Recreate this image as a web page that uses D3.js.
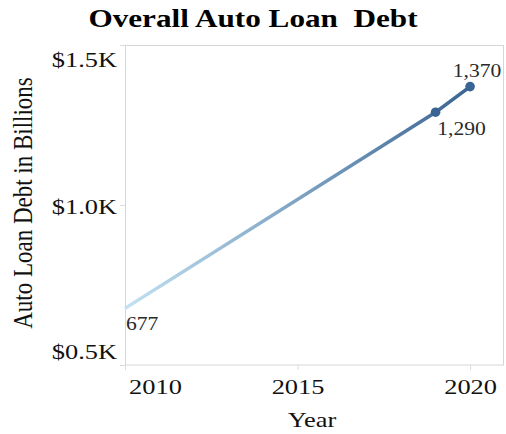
<!DOCTYPE html>
<html><head><meta charset="utf-8">
<script src="https://cdn.jsdelivr.net/npm/d3@7"></script>
<style>body{margin:0;background:#fff} svg{display:block}</style>
</head><body><svg id="c" width="506" height="434"></svg>
<script>
// ---- data ----
const years = [2010, 2019, 2020];
const debt = [677, 1290, 1370];
const dotted = [false, true, true];
const yTicks = [500, 1000, 1500];
const yTickLabels = ["$0.5K", "$1.0K", "$1.5K"];
const xTicks = [2010, 2015, 2020];
const title = "Overall Auto Loan  Debt";
const xTitle = "Year";
const yTitle = "Auto Loan Debt in Billions";

// ---- layout ----
const L = 125, R = 504, T = 45, B = 365, SX = 1.2;
const FONT = "'Liberation Serif','Times New Roman',serif";
const svg = d3.select("#c");
const x = d3.scaleLinear().domain([2010, 2021]).range([L, 504.6]);
const y = d3.scaleLinear().domain([500, 1500]).range([B, T]);
const pts = years.map((yr, i) => ({year: yr, value: debt[i], dot: dotted[i]}));

// plot border
svg.append("rect").attr("x", L + 0.5).attr("y", T + 0.5)
  .attr("width", R - L - 1).attr("height", B - T - 0.5)
  .attr("fill", "none").attr("stroke", "#d6d6d6").attr("stroke-width", 1);

// y axis
const gy = svg.append("g").attr("transform", `translate(${L},0)`)
  .call(d3.axisLeft(y).tickValues(yTicks).tickFormat((d, i) => yTickLabels[i]).tickSize(5));
gy.select(".domain").remove();
gy.selectAll(".tick line").attr("stroke", "#dcdcdc");
gy.selectAll(".tick text").each(function(d) {
  const ty = y(d);
  const cy = Math.max(T + 13, Math.min(B - 15, ty));
  d3.select(this).attr("x", 0).attr("y", 0).attr("dy", null)
    .attr("text-anchor", "end").attr("fill", "#111")
    .style("font-family", FONT).style("font-size", "22px")
    .attr("transform", `translate(-8,${cy - ty + 8}) scale(${SX},1)`);
});

// x axis
const gx = svg.append("g").attr("transform", `translate(0,${B})`)
  .call(d3.axisBottom(x).tickValues(xTicks).tickFormat(d3.format("d")).tickSize(5));
gx.select(".domain").remove();
gx.selectAll(".tick line").attr("stroke", "#dcdcdc");
gx.selectAll(".tick text").each(function(d) {
  const tx = x(d);
  const cx = Math.max(L + 30, Math.min(R - 30, tx));
  d3.select(this).attr("x", 0).attr("y", 0).attr("dy", null)
    .attr("text-anchor", "middle").attr("fill", "#111")
    .style("font-family", FONT).style("font-size", "22px")
    .attr("transform", `translate(${cx - tx},29) scale(${SX},1)`);
});

// gradient for line
const defs = svg.append("defs");
const grad = defs.append("linearGradient").attr("id", "lg")
  .attr("gradientUnits", "userSpaceOnUse")
  .attr("x1", x(years[0])).attr("y1", 0).attr("x2", x(years[years.length - 1])).attr("y2", 0);
grad.append("stop").attr("offset", "0%").attr("stop-color", "#c2e1f2");
grad.append("stop").attr("offset", "100%").attr("stop-color", "#3a6493");

svg.append("path").datum(pts)
  .attr("d", d3.line().x(d => x(d.year)).y(d => y(d.value)))
  .attr("fill", "none").attr("stroke", "url(#lg)").attr("stroke-width", 3.5)
  .attr("stroke-linecap", "butt");

svg.selectAll("circle.pt").data(pts.filter(d => d.dot)).join("circle")
  .attr("class", "pt").attr("cx", d => x(d.year)).attr("cy", d => y(d.value))
  .attr("r", 4.8).attr("fill", "#3a6493");

// data labels
const fmt = d3.format(",");
const offs = [[1, 22, "start"], [26, 23, "middle"], [7, -10, "middle"]];
svg.selectAll("text.lbl").data(pts).join("text")
  .attr("class", "lbl")
  .attr("transform", (d, i) => `translate(${x(d.year) + offs[i][0]},${y(d.value) + offs[i][1]}) scale(${SX},1)`)
  .attr("text-anchor", (d, i) => offs[i][2])
  .attr("fill", "#2a2a2a")
  .style("font-family", FONT).style("font-size", "18px")
  .text(d => fmt(d.value));

// title
svg.append("text").attr("transform", `translate(253,27) scale(${SX},1)`)
  .attr("text-anchor", "middle").attr("fill", "#000")
  .style("font-family", FONT).style("font-size", "26px").style("font-weight", "bold")
  .style("white-space", "pre").attr("xml:space", "preserve")
  .text(title);

// axis titles
svg.append("text").attr("transform", `translate(312,427) scale(${SX},1)`)
  .attr("text-anchor", "middle").attr("fill", "#111")
  .style("font-family", FONT).style("font-size", "22px")
  .text(xTitle);

svg.append("text").attr("transform", `translate(32,203) scale(${SX},1) rotate(-90)`)
  .attr("text-anchor", "middle").attr("fill", "#111")
  .style("font-family", FONT).style("font-size", "23px")
  .text(yTitle);
</script></body></html>
